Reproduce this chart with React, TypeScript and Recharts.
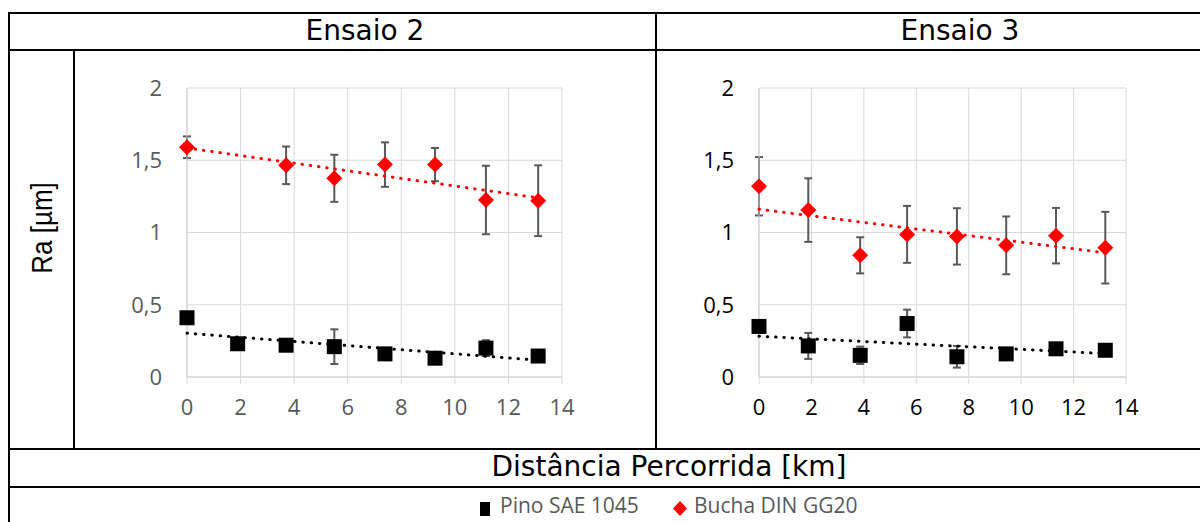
import React from 'react';
import { ScatterChart, Scatter, XAxis, YAxis, CartesianGrid, ErrorBar } from 'recharts';

const xTicks = [0, 2, 4, 6, 8, 10, 12, 14];
const yTicks = [0, 0.5, 1, 1.5, 2];

// Ensaio 2
const e2PinoDist = [0, 1.89, 3.7, 5.5, 7.39, 9.26, 11.16, 13.11];
const e2Pino = [0.41, 0.23, 0.22, 0.21, 0.16, 0.13, 0.2, 0.145];
const e2PinoErr = [0.02, 0.02, 0.02, 0.12, 0.02, 0.02, 0.055, 0.02];
const e2BuchaDist = [0, 3.7, 5.5, 7.39, 9.26, 11.16, 13.11];
const e2Bucha = [1.59, 1.465, 1.375, 1.47, 1.47, 1.225, 1.22];
const e2BuchaErr = [0.075, 0.13, 0.163, 0.154, 0.115, 0.237, 0.245];
const e2PinoTrend = [0.303, 0.116];
const e2BuchaTrend = [1.585, 1.24];
const e2TrendDist = [0, 13.11];

// Ensaio 3
const e3Dist = [0, 1.88, 3.86, 5.65, 7.55, 9.43, 11.33, 13.21];
const e3Pino = [0.35, 0.215, 0.15, 0.37, 0.14, 0.16, 0.195, 0.185];
const e3PinoErr = [0.02, 0.09, 0.06, 0.096, 0.075, 0.03, 0.03, 0.03];
const e3Bucha = [1.32, 1.155, 0.842, 0.987, 0.973, 0.911, 0.978, 0.895];
const e3BuchaErr = [0.202, 0.22, 0.125, 0.197, 0.195, 0.2, 0.192, 0.248];
const e3PinoTrend = [0.282, 0.162];
const e3BuchaTrend = [1.161, 0.86];
const e3TrendDist = [0, 13.21];

const toPoints = (xs: number[], ys: number[], errs?: number[]) =>
  xs.map((x, i) => ({ x, y: ys[i], err: errs ? errs[i] : 0 }));

const Square = (props: any) => {
  const { cx, cy } = props;
  return <rect x={cx - 7.5} y={cy - 7.5} width={15} height={15} fill="#000000" />;
};

const Diamond = (props: any) => {
  const { cx, cy } = props;
  const r = 8;
  return (
    <polygon
      points={`${cx},${cy - r} ${cx + r},${cy} ${cx},${cy + r} ${cx - r},${cy}`}
      fill="#ff0000"
    />
  );
};

const NoDot = () => <g />;

const fmt = (v: number) => String(v).replace('.', ',');

interface PanelProps {
  left: number;
  rightMargin: number;
  tickColor: string;
  pino: any[];
  bucha: any[];
  pinoTrend: any[];
  buchaTrend: any[];
}

function Panel({ left, rightMargin, tickColor, pino, bucha, pinoTrend, buchaTrend }: PanelProps) {
  const tick = { fill: tickColor, fontSize: 22, fontFamily: '"Open Sans", sans-serif' };
  return (
    <div style={{ position: 'absolute', left, top: 60 }}>
      <ScatterChart
        width={480}
        height={370}
        margin={{ top: 28, right: rightMargin, bottom: 0, left: 0 }}
      >
        <CartesianGrid stroke="#d9d9d9" strokeWidth={1} />
        <XAxis
          type="number"
          dataKey="x"
          domain={[0, 14]}
          ticks={xTicks}
          height={53}
          tick={tick}
          tickSize={7}
          tickMargin={15}
          tickLine={{ stroke: '#d9d9d9' }}
          axisLine={{ stroke: '#d0d0d0' }}
        />
        <YAxis
          type="number"
          dataKey="y"
          domain={[0, 2]}
          ticks={yTicks}
          width={87}
          tick={tick}
          tickFormatter={fmt}
          tickLine={false}
          tickSize={0}
          tickMargin={25}
          axisLine={{ stroke: '#d0d0d0' }}
        />
        <Scatter data={pino} shape={Square} isAnimationActive={false}>
          <ErrorBar dataKey="err" direction="y" width={4} stroke="#595959" strokeWidth={2} />
        </Scatter>
        <Scatter data={bucha} shape={Diamond} isAnimationActive={false}>
          <ErrorBar dataKey="err" direction="y" width={4} stroke="#595959" strokeWidth={2} />
        </Scatter>
        <Scatter
          data={pinoTrend}
          shape={NoDot}
          line={{ stroke: '#000000', strokeWidth: 3, strokeDasharray: '0.5 7.8', strokeLinecap: 'round' }}
          isAnimationActive={false}
        />
        <Scatter
          data={buchaTrend}
          shape={NoDot}
          line={{ stroke: '#ff0000', strokeWidth: 3, strokeDasharray: '0.5 7.8', strokeLinecap: 'round' }}
          isAnimationActive={false}
        />
      </ScatterChart>
    </div>
  );
}

const line = (left: number, top: number, width: number, height: number) => (
  <div style={{ position: 'absolute', left, top, width, height, background: '#000' }} />
);

const headFont = '"DejaVu Sans", sans-serif';

export default function App() {
  return (
    <div
      style={{
        position: 'fixed',
        left: 0,
        top: 0,
        width: 1200,
        height: 522,
        overflow: 'hidden',
        background: '#fff',
        fontFamily: '"Open Sans", sans-serif',
      }}
    >
      {/* table grid */}
      {line(8, 12, 1260, 2)}
      {line(8, 49, 1260, 2)}
      {line(8, 448, 1260, 2)}
      {line(8, 486, 1260, 2)}
      {line(8, 12, 2, 520)}
      {line(73, 49, 2, 401)}
      {line(655, 12, 2, 438)}
      {line(1263, 12, 2, 520)}

      <div style={{ position: 'absolute', left: 74, width: 582, top: 12, height: 38, lineHeight: '38px', textAlign: 'center', fontFamily: headFont, fontSize: 28 }}>
        Ensaio 2
      </div>
      <div style={{ position: 'absolute', left: 656, width: 608, top: 12, height: 38, lineHeight: '38px', textAlign: 'center', fontFamily: headFont, fontSize: 28 }}>
        Ensaio 3
      </div>
      <div
        style={{
          position: 'absolute',
          left: 42,
          top: 228,
          transform: 'translate(-50%, -50%) rotate(-90deg) scaleY(1.15)',
          whiteSpace: 'nowrap',
          fontFamily: '"Liberation Sans", Arial, sans-serif',
          fontSize: 26,
        }}
      >
        Ra [µm]
      </div>
      <div style={{ position: 'absolute', left: 74, width: 1190, top: 448, height: 38, lineHeight: '38px', textAlign: 'center', fontFamily: headFont, fontSize: 28 }}>
        Distância Percorrida [km]
      </div>

      <Panel
        left={100}
        rightMargin={18}
        tickColor="#595959"
        pino={toPoints(e2PinoDist, e2Pino, e2PinoErr)}
        bucha={toPoints(e2BuchaDist, e2Bucha, e2BuchaErr)}
        pinoTrend={toPoints(e2TrendDist, e2PinoTrend)}
        buchaTrend={toPoints(e2TrendDist, e2BuchaTrend)}
      />
      <Panel
        left={672}
        rightMargin={26}
        tickColor="#000000"
        pino={toPoints(e3Dist, e3Pino, e3PinoErr)}
        bucha={toPoints(e3Dist, e3Bucha, e3BuchaErr)}
        pinoTrend={toPoints(e3TrendDist, e3PinoTrend)}
        buchaTrend={toPoints(e3TrendDist, e3BuchaTrend)}
      />

      {/* legend */}
      <div style={{ position: 'absolute', left: 480, top: 502, width: 10, height: 14, background: '#000' }} />
      <div style={{ position: 'absolute', left: 500, top: 495, fontSize: 21, lineHeight: '20px', color: '#595959', whiteSpace: 'nowrap' }}>
        Pino SAE 1045
      </div>
      <svg style={{ position: 'absolute', left: 672, top: 501 }} width={16} height={16}>
        <polygon points="8,0 15,7.5 8,15 1,7.5" fill="#ff0000" />
      </svg>
      <div style={{ position: 'absolute', left: 694, top: 495, fontSize: 21, lineHeight: '20px', color: '#595959', whiteSpace: 'nowrap' }}>
        Bucha DIN GG20
      </div>
    </div>
  );
}
